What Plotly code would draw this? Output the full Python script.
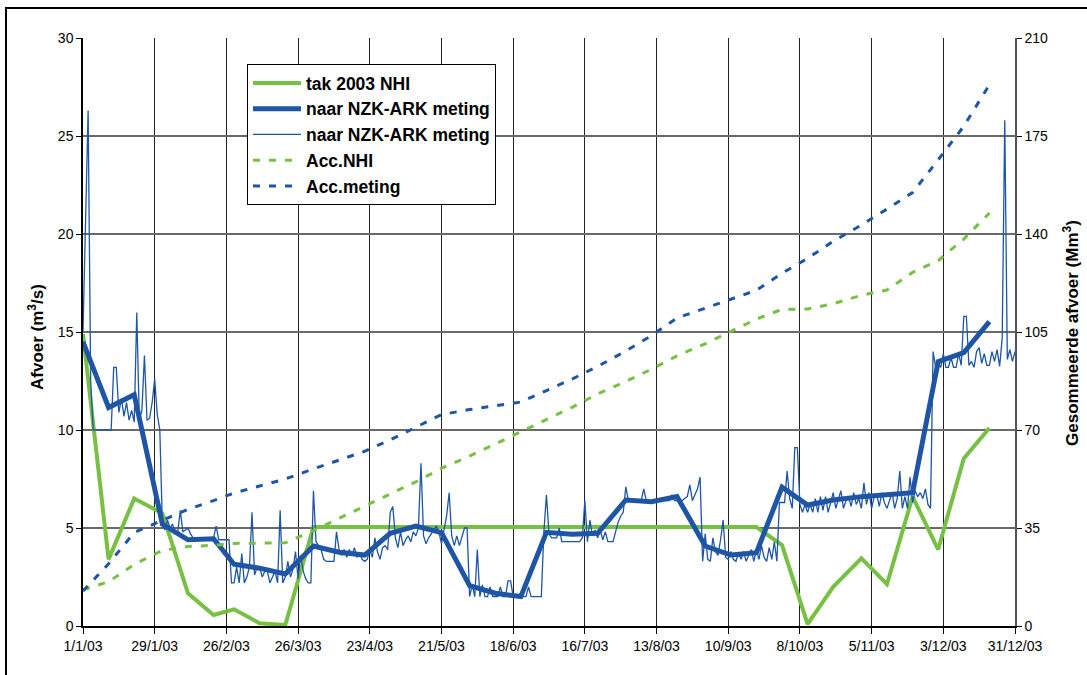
import pandas as pd
import plotly.graph_objects as go

# ---------------- data ----------------
dekad_dates = [f"2003-{m:02d}-{d:02d}" for m in range(1, 13) for d in (1, 11, 21)]
daily_dates = pd.date_range("2003-01-01", "2003-12-31", freq="D")

nhi_dekad = [14.9, 3.4, 6.5, 5.75, 1.67, 0.56, 0.85, 0.14, 0.05,
             5.05, 5.05, 5.05, 5.05, 5.05, 5.05, 5.05, 5.05, 5.05,
             5.05, 5.05, 5.05, 5.05, 5.05, 5.05, 5.05, 5.05, 5.05,
             4.13, 0.1, 2.0, 3.45, 2.13, 6.6, 3.9, 8.55, 10.1]

meting_dekad = [14.5, 11.15, 11.8, 5.2, 4.4, 4.45, 3.15, 2.95, 2.65,
                4.08, 3.76, 3.62, 4.73, 5.1, 4.76, 2.06, 1.67, 1.5,
                4.78, 4.68, 4.73, 6.43, 6.34, 6.6, 4.08, 3.62, 3.74,
                7.08, 6.17, 6.43, 6.6, 6.68, 6.8, 13.49, 13.95, 15.53]

meting_daily = [
    15.0, 20.6, 26.3, 12.5, 10.0, 10.0, 10.0, 10.0, 10.0, 10.0,
    10.0, 10.0, 13.2, 13.2, 10.9, 11.6, 10.7, 11.4, 10.5, 11.0,
    10.4, 16.0, 10.5, 11.0, 13.8, 10.5, 10.6, 11.4, 12.6, 10.8,
    10.0, 5.2, 4.9, 5.4, 5.0, 5.2, 4.7, 4.8, 5.9, 4.8,
    4.9, 5.0, 4.7, 4.5, 4.4, 4.4, 4.4, 4.4, 4.4, 4.4,
    4.4, 4.5, 5.1, 4.4, 4.4, 4.4, 4.4, 4.4, 2.2, 2.2,
    3.0, 2.2, 3.7, 2.2, 2.5, 3.0, 5.8, 2.6, 3.0, 3.0,
    2.5, 2.8, 2.8, 2.2, 2.5, 2.8, 2.2, 5.9, 2.2, 2.5,
    3.3, 2.5, 2.9, 3.8, 2.4, 3.6, 2.8, 2.4, 2.2, 2.2,
    6.9, 4.3, 4.1, 3.9, 3.4, 3.3, 3.3, 3.3, 3.3, 4.8,
    3.9, 3.6, 3.9, 3.5, 3.9, 3.6, 4.0, 3.5, 3.7, 3.4,
    3.3, 3.4, 3.9, 3.5, 4.5, 3.8, 3.4, 4.0, 4.1, 3.9,
    5.8, 6.1, 4.5, 4.0, 4.8, 4.1, 4.4, 4.6, 4.3, 4.8,
    4.6, 5.0, 8.3, 4.6, 4.2, 4.5, 4.7, 4.9, 5.1, 4.8,
    4.2, 4.9, 5.6, 6.8, 4.6, 4.1, 4.6, 4.1, 4.5, 5.0,
    5.0, 1.5, 2.1, 1.5, 3.9, 1.5, 2.1, 1.5, 1.5, 2.0,
    1.5, 1.5, 1.5, 2.0, 1.5, 1.5, 2.3, 2.3, 1.5, 1.5,
    1.5, 1.5, 1.5, 1.5, 2.0, 1.5, 1.5, 1.5, 1.5, 1.5,
    4.8, 6.7, 4.7, 4.5, 4.5, 4.5, 5.0, 4.3, 4.3, 4.3,
    4.3, 4.3, 4.3, 4.3, 4.3, 4.5, 6.4, 4.3, 5.4, 4.6,
    4.9, 4.5, 4.9, 4.4, 4.8, 4.3, 4.3, 4.3, 4.8, 5.3,
    5.6, 5.8, 7.1, 6.4, 6.4, 6.4, 6.4, 6.4, 6.4, 7.0,
    6.4, 6.4, 6.4, 6.4, 6.4, 6.4, 6.4, 6.4, 6.4, 6.4,
    6.7, 6.4, 6.4, 6.4, 6.4, 6.5, 6.6, 7.2, 6.4, 6.7,
    7.0, 7.6, 3.3, 4.7, 3.4, 3.3, 4.5, 3.8, 3.6, 4.4,
    5.4, 3.5, 3.4, 3.8, 3.4, 3.3, 3.7, 3.4, 3.8, 3.3,
    3.6, 3.9, 3.3, 3.9, 3.4, 4.1, 3.5, 3.3, 4.0, 3.4,
    4.3, 3.3, 6.3, 6.3, 6.3, 7.9, 6.5, 6.0, 9.1, 9.1,
    6.2, 5.8, 6.2, 5.8, 6.2, 5.8, 6.5, 5.8, 6.6, 5.9,
    6.6, 5.8, 6.3, 6.8, 6.0, 6.5, 6.9, 6.0, 6.4, 6.6,
    6.1, 6.8, 6.2, 6.5, 6.0, 7.3, 6.2, 6.8, 6.0, 6.6,
    6.7, 6.1, 6.8, 6.3, 6.0, 6.4, 6.8, 6.0, 6.5, 7.9,
    6.0, 6.6, 6.0, 7.6, 6.3, 6.9, 6.6, 6.8, 6.5, 7.0,
    6.2, 6.0, 14.0, 13.2, 13.4, 13.2, 13.9, 13.2, 13.2, 13.7,
    13.2, 13.2, 13.9, 13.3, 15.8, 15.8, 13.3, 13.5, 13.2, 14.0,
    14.2, 13.4, 13.9, 13.3, 13.3, 14.0, 13.5, 14.1, 13.25, 14.7,
    25.8, 13.6, 14.1, 13.5, 14.0,
]

acc_nhi = [12.9, 15.8, 22.0, 27.0, 28.4, 28.8, 29.5, 29.6, 29.7,
           34.1, 38.4, 42.8, 47.2, 51.5, 56.3, 60.7, 65.0, 69.4,
           73.8, 78.1, 82.9, 87.3, 91.7, 96.5, 100.8, 105.2, 109.6,
           113.1, 113.2, 115.1, 118.1, 120.0, 126.3, 130.5, 138.2, 147.5]

acc_meting = [12.5, 22.2, 33.4, 37.9, 41.7, 44.8, 47.5, 50.0, 52.5,
              56.1, 59.3, 62.4, 66.5, 70.9, 75.5, 77.3, 78.7, 80.0,
              84.1, 88.2, 92.7, 98.2, 103.7, 110.0, 113.5, 116.6, 119.9,
              126.0, 131.3, 137.4, 143.2, 148.9, 154.8, 166.5, 178.5, 193.3]

tick_dates = pd.date_range("2003-01-01", periods=14, freq="28D")
tick_labels = ["1/1/03", "29/1/03", "26/2/03", "26/3/03", "23/4/03", "21/5/03",
               "18/6/03", "16/7/03", "13/8/03", "10/9/03", "8/10/03", "5/11/03",
               "3/12/03", "31/12/03"]

# ---------------- styling ----------------
GREEN = "#78C043"
BLUE = "#1F55A5"
FONT = "Liberation Sans, Arial, sans-serif"

W, H = 1087, 675
L, R, T, B = 83, 1015, 38, 626


def px_x(px):
    return (px - L) / (R - L)


def px_y(py):
    return (B - py) / (B - T)


fig = go.Figure()
fig.add_trace(go.Scatter(x=dekad_dates, y=nhi_dekad, mode="lines",
                         name="<b>tak 2003 NHI</b>",
                         line=dict(color=GREEN, width=4)))
fig.add_trace(go.Scatter(x=dekad_dates, y=meting_dekad, mode="lines",
                         name="<b>naar NZK-ARK meting</b>",
                         line=dict(color=BLUE, width=5)))
fig.add_trace(go.Scatter(x=daily_dates, y=meting_daily, mode="lines",
                         name="<b>naar NZK-ARK meting</b>",
                         line=dict(color=BLUE, width=1.3)))
fig.add_trace(go.Scatter(x=dekad_dates, y=acc_nhi, mode="lines", yaxis="y2",
                         name="<b>Acc.NHI</b>",
                         line=dict(color=GREEN, width=3, dash="7px,9px")))
fig.add_trace(go.Scatter(x=dekad_dates, y=acc_meting, mode="lines", yaxis="y2",
                         name="<b>Acc.meting</b>",
                         line=dict(color=BLUE, width=3, dash="7px,9px")))

fig.update_layout(
    width=W, height=H,
    margin=dict(l=L, r=W - R, t=T, b=H - B, pad=0),
    paper_bgcolor="white", plot_bgcolor="white",
    font=dict(family=FONT, color="black", size=14),
    showlegend=True,
    legend=dict(x=px_x(247), y=px_y(64), xanchor="left", yanchor="top",
                bgcolor="white", bordercolor="black", borderwidth=1,
                font=dict(family=FONT, size=17.5, color="black"),
                itemwidth=48, traceorder="normal"),
    xaxis=dict(type="date", range=["2003-01-01", "2003-12-31"],
               tickmode="array", tickvals=tick_dates, ticktext=tick_labels,
               showgrid=True, gridcolor="#222222", gridwidth=1,
               showline=True, linecolor="black", linewidth=1.5,
               ticks="outside", ticklen=6, tickcolor="black",
               tickfont=dict(size=14), zeroline=False),
    yaxis=dict(range=[0, 30], tick0=0, dtick=5,
               showgrid=True, gridcolor="#6a6a6a", gridwidth=1.5,
               showline=True, linecolor="black", linewidth=1.5,
               ticks="outside", ticklen=5, tickcolor="black",
               tickfont=dict(size=14), zeroline=False),
    yaxis2=dict(range=[0, 210], tick0=0, dtick=35, overlaying="y", side="right",
                showgrid=False, showline=True, linecolor="#555555", linewidth=1.5,
                ticks="outside", ticklen=5, tickcolor="black",
                tickfont=dict(size=14), zeroline=False),
    annotations=[
        dict(text="<b>Afvoer (m<sup>3</sup>/s)</b>", xref="paper", yref="paper",
             x=px_x(36), y=px_y(337), textangle=-90, showarrow=False,
             font=dict(family=FONT, size=17, color="black"),
             xanchor="center", yanchor="middle"),
        dict(text="<b>Gesommeerde afvoer (Mm<sup>3</sup>)</b>", xref="paper", yref="paper",
             x=px_x(1071), y=px_y(333), textangle=-90, showarrow=False,
             font=dict(family=FONT, size=17, color="black"),
             xanchor="center", yanchor="middle"),
    ],
    shapes=[
        dict(type="rect", xref="paper", yref="paper",
             x0=px_x(6), x1=px_x(1110), y0=px_y(720), y1=px_y(8),
             line=dict(color="black", width=2), fillcolor="rgba(0,0,0,0)",
             layer="below"),
    ],
)

fig.write_html("out.html")
